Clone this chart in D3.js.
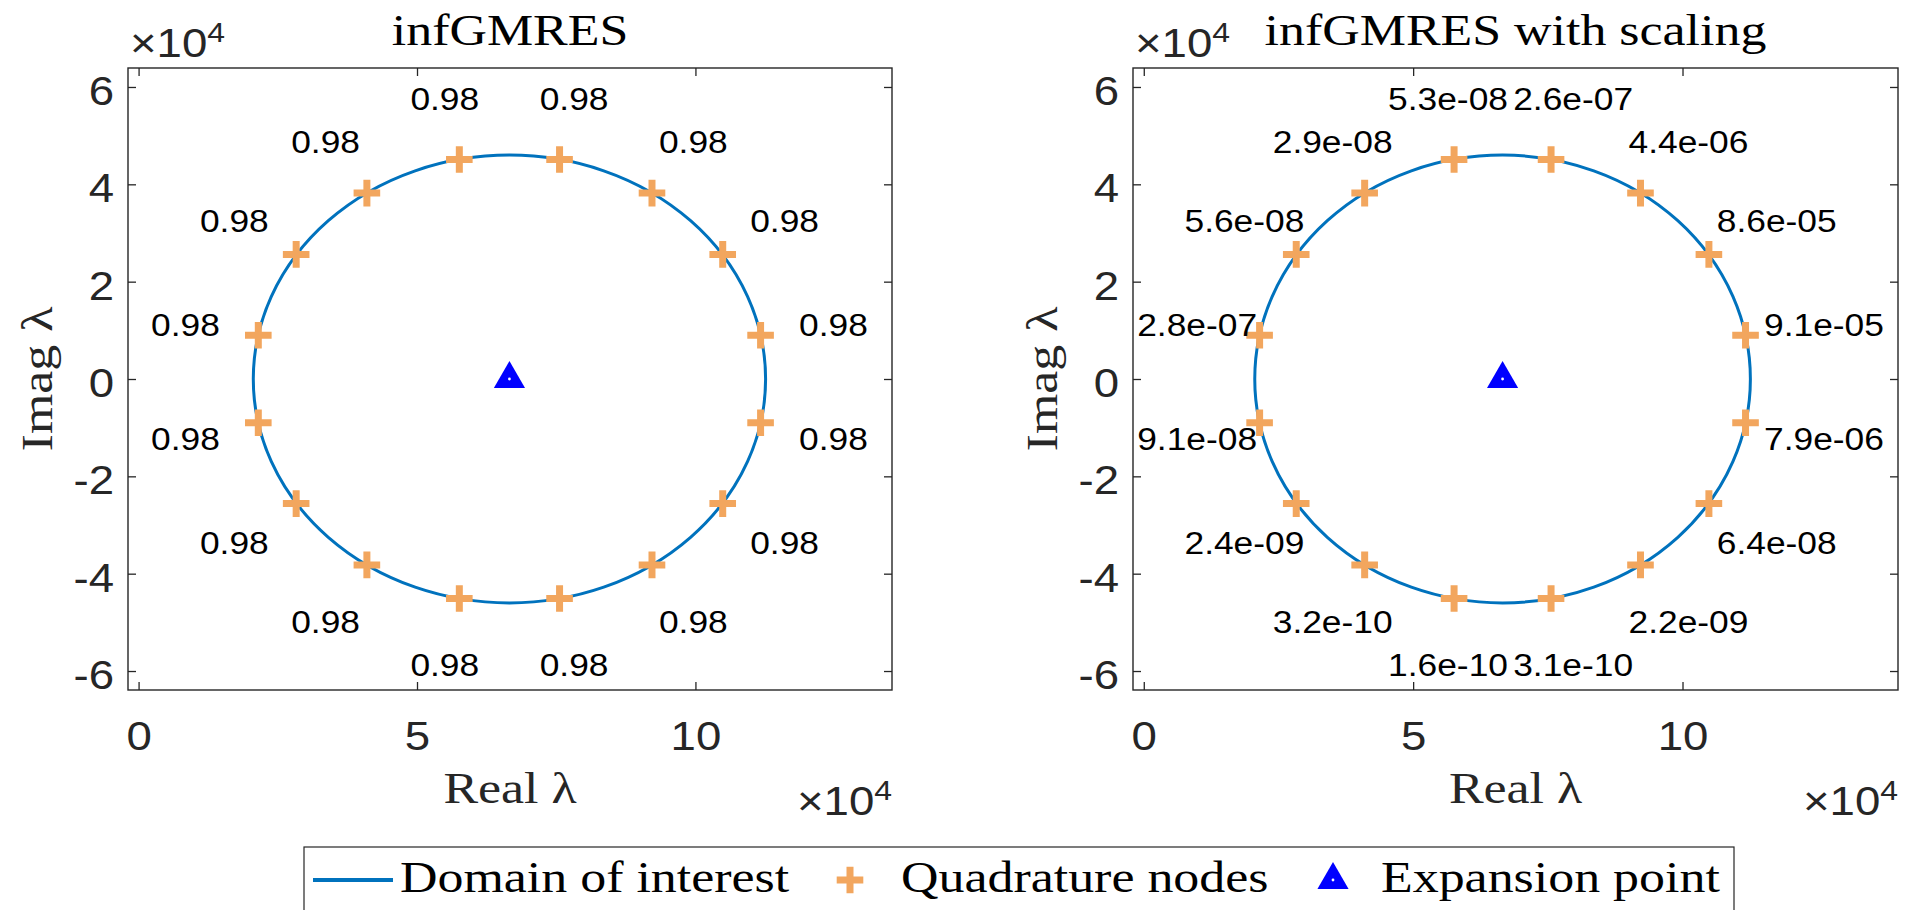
<!DOCTYPE html>
<html>
<head>
<meta charset="utf-8">
<script src="https://cdn.jsdelivr.net/npm/d3@7"></script>
<style>
  body { margin: 0; background: #fff; }
</style>
</head>
<body>
<div class="container"></div>
<script>
// all coordinates in units of 1e4 (the axes show x10^4)
const xTicks = [0, 5, 10]
const yTicks = [-6, -4, -2, 0, 2, 4, 6]

const domainCenter = [6.66, 0]
const domainRadius = 4.6
const expansionPoint = [6.66, 0]

// quadrature nodes, counter-clockwise from the right
const nodeRe = [11.17, 10.49, 9.22, 7.56, 5.76, 4.10, 2.83, 2.15, 2.15, 2.83, 4.10, 5.76, 7.56, 9.22, 10.49, 11.17]
const nodeIm = [0.90, 2.56, 3.82, 4.51, 4.51, 3.82, 2.56, 0.90, -0.90, -2.56, -3.82, -4.51, -4.51, -3.82, -2.56, -0.90]

const errPlain = ["0.98", "0.98", "0.98", "0.98", "0.98", "0.98", "0.98", "0.98",
                  "0.98", "0.98", "0.98", "0.98", "0.98", "0.98", "0.98", "0.98"]
const errScaled = ["9.1e-05", "8.6e-05", "4.4e-06", "2.6e-07", "5.3e-08", "2.9e-08", "5.6e-08", "2.8e-07",
                   "9.1e-08", "2.4e-09", "3.2e-10", "1.6e-10", "3.1e-10", "2.2e-09", "6.4e-08", "7.9e-06"]

const titles = ["infGMRES", "infGMRES with scaling"]
const legendNames = ["Domain of interest", "Quadrature nodes", "Expansion point"]

const blue = "#0072BD"
const orange = "#F2A65E"
const axisColor = "#262626"
const sansFont = "Liberation Sans, Arial, sans-serif"
const serifFont = "Liberation Serif, Times New Roman, serif"
const sansSX = 1.14
const serifSX = 1.18

const svg = d3.select(".container")
              .append("svg")
              .attr("width", 1915)
              .attr("height", 910)

const plotTop = 68, plotBottom = 690
const yLim = [-6.39, 6.39]

const panels = [
    {title: titles[0], labels: errPlain, left: 128, right: 892, xLim: [-0.19, 13.53], shift: 0},
    {title: titles[1], labels: errScaled, left: 1133, right: 1898, xLim: [-0.2, 14.0], shift: 8}
]

// text helper: stretched a little in its own x direction
const addText = (g, x, y, str, o) => {
    return g.append("text")
            .attr("transform", `translate(${x},${y})` + (o.rotate ? ` rotate(${o.rotate})` : "") + ` scale(${o.sx},1)`)
            .attr("text-anchor", o.anchor || "middle")
            .attr("font-family", o.font)
            .attr("font-size", o.size)
            .attr("fill", o.color || "#000")
            .text(str)
}

const plusPath = (h) => `M${-h},0H${h}M0,${-h}V${h}`
const triPath = (r) => `M0,${-r}L${r * 0.866},${r / 2}L${-r * 0.866},${r / 2}Z`

const expLabel = (g, x, y, anchor) => {
    const t = g.append("text")
               .attr("transform", `translate(${x},${y}) scale(${sansSX},1)`)
               .attr("text-anchor", anchor)
               .attr("font-family", sansFont)
               .attr("font-size", 40)
               .attr("fill", axisColor)
    t.append("tspan").text("\u00d710")
    t.append("tspan").attr("dy", -15).attr("font-size", 28).text("4")
}

panels.forEach((p) => {
    const x = d3.scaleLinear().domain(p.xLim).range([p.left, p.right])
    const y = d3.scaleLinear().domain(yLim).range([plotBottom, plotTop])
    const g = svg.append("g")

    // ticks on all four sides, pointing inward
    const axes = [
        [d3.axisBottom(x).tickValues(xTicks), `translate(0,${plotBottom})`, true],
        [d3.axisTop(x).tickValues(xTicks).tickFormat(""), `translate(0,${plotTop})`, false],
        [d3.axisLeft(y).tickValues(yTicks), `translate(${p.left},0)`, true],
        [d3.axisRight(y).tickValues(yTicks).tickFormat(""), `translate(${p.right},0)`, false]
    ]
    axes.forEach(([ax, tr, labelled], i) => {
        const a = g.append("g")
                   .attr("transform", tr)
                   .call(ax.tickSizeInner(-8).tickSizeOuter(0))
        a.select(".domain").remove()
        a.selectAll(".tick line").attr("stroke", axisColor).attr("stroke-width", 1.3)
        if (labelled) {
            a.selectAll(".tick text")
             .attr("font-family", sansFont)
             .attr("font-size", 40)
             .attr("fill", axisColor)
             .attr("x", 0)
             .attr("dy", null)
             .attr("y", 0)
             .attr("transform", i === 0 ? `translate(0,60) scale(${sansSX},1)` : `translate(-14,17.5) scale(${sansSX},1)`)
             .text((d) => String(d))
        }
    })

    g.append("rect")
     .attr("x", p.left)
     .attr("y", plotTop)
     .attr("width", p.right - p.left)
     .attr("height", plotBottom - plotTop)
     .attr("fill", "none")
     .attr("stroke", axisColor)
     .attr("stroke-width", 1.4)

    // domain of interest
    g.append("ellipse")
     .attr("cx", x(domainCenter[0]))
     .attr("cy", y(domainCenter[1]))
     .attr("rx", x(domainCenter[0] + domainRadius) - x(domainCenter[0]))
     .attr("ry", y(domainCenter[1]) - y(domainCenter[1] + domainRadius))
     .attr("fill", "none")
     .attr("stroke", blue)
     .attr("stroke-width", 3)

    // quadrature nodes
    g.selectAll(".node")
     .data(nodeRe)
     .enter()
     .append("path")
     .attr("class", "node")
     .attr("d", plusPath(13.3))
     .attr("transform", (d, i) => `translate(${x(d)},${y(nodeIm[i])})`)
     .attr("stroke", orange)
     .attr("stroke-width", 7)
     .attr("fill", "none")

    // expansion point
    g.append("path")
     .attr("d", triPath(18))
     .attr("transform", `translate(${x(expansionPoint[0])},${y(expansionPoint[1])})`)
     .attr("fill", "#0000FF")
    g.append("circle")
     .attr("cx", x(expansionPoint[0]))
     .attr("cy", y(expansionPoint[1]))
     .attr("r", 1.4)
     .attr("fill", "#fff")

    // error labels, pushed outward from the centre
    p.labels.forEach((lab, i) => {
        const lx = domainCenter[0] + 1.29 * (nodeRe[i] - domainCenter[0])
        const ly = domainCenter[1] + 1.29 * (nodeIm[i] - domainCenter[1])
        addText(g, x(lx) + p.shift, y(ly) + 14, lab, {sx: sansSX, font: sansFont, size: 31})
    })

    const mid = (p.left + p.right) / 2
    addText(g, mid, 45, p.title, {sx: serifSX, font: serifFont, size: 44})
    addText(g, mid, 803, "Real \u03bb", {sx: serifSX, font: serifFont, size: 44, color: axisColor})
    addText(g, p.left - 76, (plotTop + plotBottom) / 2, "Imag \u03bb", {sx: serifSX, font: serifFont, size: 44, rotate: -90, color: axisColor})

    expLabel(g, p.left + 2, 57, "start")
    expLabel(g, p.right, 815, "end")
})

// legend
const leg = svg.append("g")
leg.append("rect")
   .attr("x", 304)
   .attr("y", 847)
   .attr("width", 1430)
   .attr("height", 70)
   .attr("fill", "#fff")
   .attr("stroke", axisColor)
   .attr("stroke-width", 1.2)

leg.append("line")
   .attr("x1", 313).attr("x2", 393)
   .attr("y1", 880).attr("y2", 880)
   .attr("stroke", blue)
   .attr("stroke-width", 4)
addText(leg, 400, 892, legendNames[0], {sx: serifSX, font: serifFont, size: 44, anchor: "start"})

leg.append("path")
   .attr("d", plusPath(13.3))
   .attr("transform", "translate(850,880)")
   .attr("stroke", orange)
   .attr("stroke-width", 7)
   .attr("fill", "none")
addText(leg, 901, 892, legendNames[1], {sx: serifSX, font: serifFont, size: 44, anchor: "start"})

leg.append("path")
   .attr("d", triPath(18))
   .attr("transform", "translate(1333,880)")
   .attr("fill", "#0000FF")
leg.append("circle").attr("cx", 1333).attr("cy", 880).attr("r", 1.4).attr("fill", "#fff")
addText(leg, 1381, 892, legendNames[2], {sx: serifSX, font: serifFont, size: 44, anchor: "start"})
</script>
</body>
</html>
